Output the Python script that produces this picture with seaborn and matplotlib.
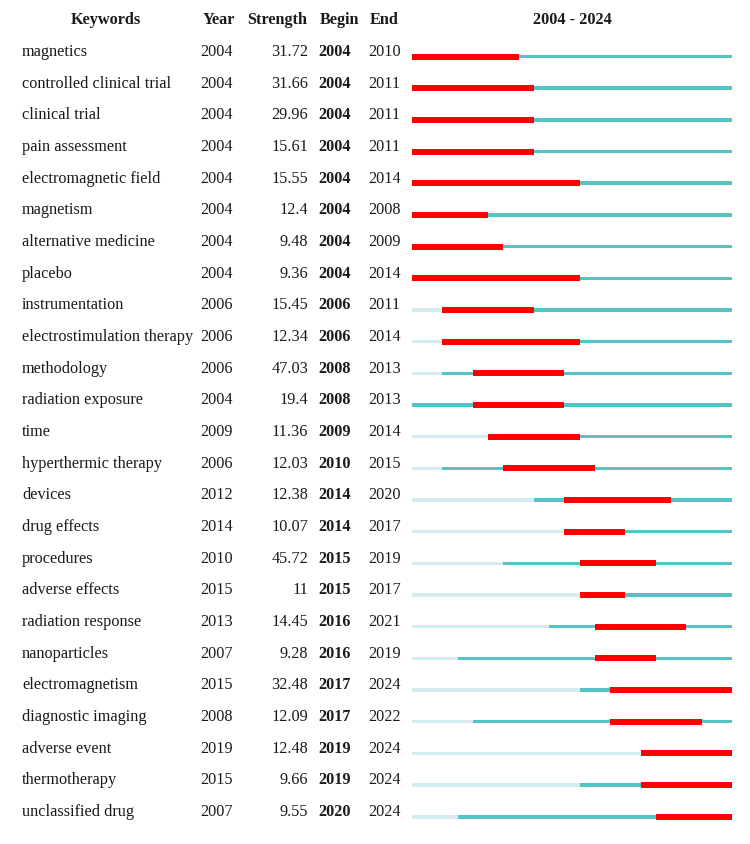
import matplotlib
matplotlib.use("Agg")
import matplotlib.pyplot as plt
import matplotlib.transforms as mtransforms
import seaborn as sns
import pandas as pd

keywords = ["magnetics", "controlled clinical trial", "clinical trial", "pain assessment",
            "electromagnetic field", "magnetism", "alternative medicine", "placebo",
            "instrumentation", "electrostimulation therapy", "methodology", "radiation exposure",
            "time", "hyperthermic therapy", "devices", "drug effects", "procedures",
            "adverse effects", "radiation response", "nanoparticles", "electromagnetism",
            "diagnostic imaging", "adverse event", "thermotherapy", "unclassified drug"]
years = [2004, 2004, 2004, 2004, 2004, 2004, 2004, 2004, 2006, 2006, 2006, 2004, 2009,
         2006, 2012, 2014, 2010, 2015, 2013, 2007, 2015, 2008, 2019, 2015, 2007]
strengths = [31.72, 31.66, 29.96, 15.61, 15.55, 12.4, 9.48, 9.36, 15.45, 12.34, 47.03, 19.4,
             11.36, 12.03, 12.38, 10.07, 45.72, 11, 14.45, 9.28, 32.48, 12.09, 12.48, 9.66, 9.55]
begins = [2004, 2004, 2004, 2004, 2004, 2004, 2004, 2004, 2006, 2006, 2008, 2008, 2009,
          2010, 2014, 2014, 2015, 2015, 2016, 2016, 2017, 2017, 2019, 2019, 2020]
ends = [2010, 2011, 2011, 2011, 2014, 2008, 2009, 2014, 2011, 2014, 2013, 2013, 2014,
        2015, 2020, 2017, 2019, 2017, 2021, 2019, 2024, 2022, 2024, 2024, 2024]
period_start, period_end = 2004, 2024

df = pd.DataFrame({"keyword": keywords, "year": years, "strength": strengths,
                   "begin": begins, "end": ends})
df["row"] = range(len(df))

sns.set_style("white")
plt.rcParams["font.family"] = ["Liberation Serif", "DejaVu Serif"]

W, H = 750, 844
fig = plt.figure(figsize=(W / 100, H / 100), dpi=100, facecolor="white")
ax = fig.add_axes([412 / W, 0, 320 / W, 1])
ax.set_xlim(period_start, period_end + 1)
n = len(df)
ax.set_ylim(24.86, -1.784)
ax.axis("off")

light = "#d5ecee"
cyan = "#55c2c3"
red = "#ff0000"
thin = 0.11
thick = 0.19

# light background segment (before keyword first appears)
ax.barh(df["row"], df["year"] - period_start, left=period_start, height=thin,
        color=light, linewidth=0)
# cyan segment from first appearance to end
ax.barh(df["row"], period_end + 1 - df["year"], left=df["year"], height=thin,
        color=cyan, linewidth=0)
# red burst segment
ax.barh(df["row"], df["end"] + 1 - df["begin"], left=df["begin"], height=thick,
        color=red, linewidth=0)

tr = mtransforms.blended_transform_factory(fig.transFigure, ax.transData)
fs = 11.7
col = "#1a1a1a"

def fx(px):
    return px / W

hy = -1.025
ax.text(fx(106), hy, "Keywords", transform=tr, ha="center", va="baseline",
        fontsize=fs, fontweight="bold", color=col)
ax.text(fx(219), hy, "Year", transform=tr, ha="center", va="baseline",
        fontsize=fs, fontweight="bold", color=col)
ax.text(fx(277), hy, "Strength", transform=tr, ha="center", va="baseline",
        fontsize=fs, fontweight="bold", color=col)
ax.text(fx(339), hy, "Begin", transform=tr, ha="center", va="baseline",
        fontsize=fs, fontweight="bold", color=col)
ax.text(fx(384), hy, "End", transform=tr, ha="center", va="baseline",
        fontsize=fs, fontweight="bold", color=col)
ax.text(fx(572), hy, f"{period_start} - {period_end}", transform=tr, ha="center",
        va="baseline", fontsize=fs, fontweight="bold", color=col)

for _, r in df.iterrows():
    y = r["row"] - 0.02
    ax.text(fx(22), y, r["keyword"], transform=tr, ha="left", va="baseline",
            fontsize=fs, color=col)
    ax.text(fx(200), y, str(r["year"]), transform=tr, ha="left", va="baseline",
            fontsize=fs, color=col)
    ax.text(fx(308), y, f"{r['strength']:g}", transform=tr, ha="right", va="baseline",
            fontsize=fs, color=col)
    ax.text(fx(318), y, str(r["begin"]), transform=tr, ha="left", va="baseline",
            fontsize=fs, fontweight="bold", color=col)
    ax.text(fx(368), y, str(r["end"]), transform=tr, ha="left", va="baseline",
            fontsize=fs, color=col)

fig.savefig("out.png", dpi=100, facecolor="white")
